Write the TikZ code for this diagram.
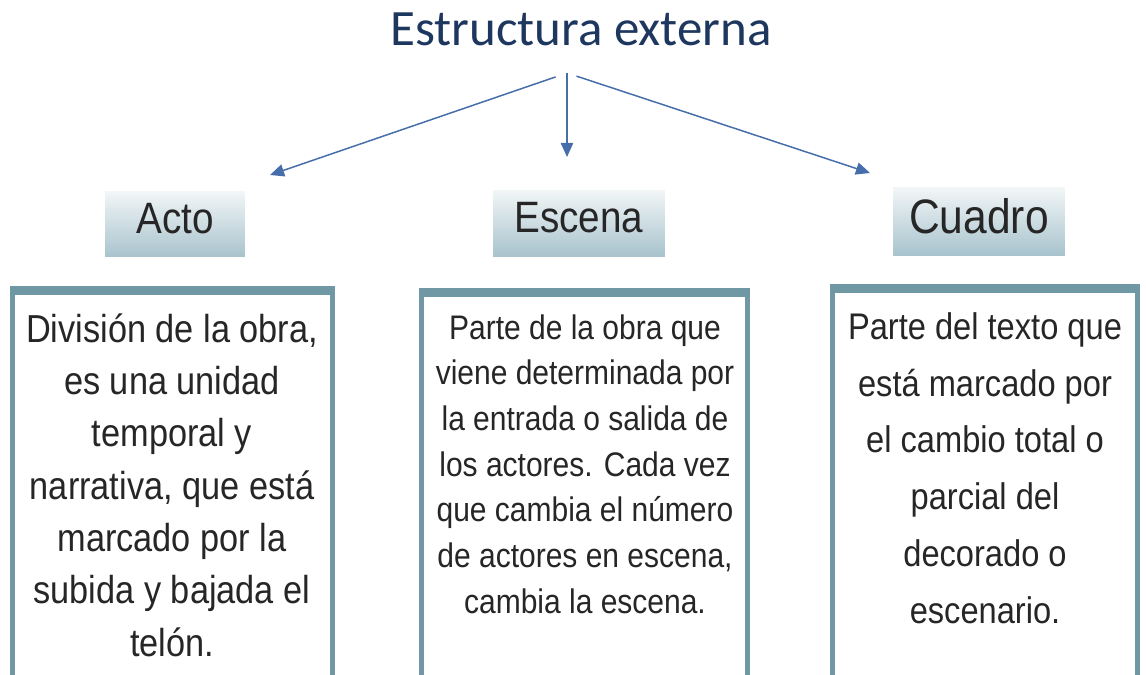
\documentclass[tikz,border=0pt]{standalone}
\usepackage{fontspec}
\usepackage{tikz}
\usetikzlibrary{positioning,arrows.meta}
\setmainfont{Liberation Sans}
\newfontfamily\arialfont[FakeStretch=0.88]{Liberation Sans}
\newfontfamily\titlefont{Carlito}
\definecolor{titleblue}{RGB}{30,55,95}
\definecolor{arrowblue}{RGB}{70,110,170}
\definecolor{boxline}{RGB}{112,152,164}
\definecolor{headtop}{RGB}{242,246,247}
\definecolor{headbottom}{RGB}{168,195,205}

\begin{document}
\begin{tikzpicture}[x=0.02cm, y=-0.02cm]
    % Define styles
    \tikzstyle{heading} = [rectangle, top color=headtop, bottom color=headbottom, minimum height=1.3cm, text centered, inner sep=0pt, text depth=6pt, text=black!85]
    \tikzstyle{descbox} = [rectangle, draw=boxline, line width=2.8pt, fill=white, anchor=north, minimum height=8.5cm]
    \tikzstyle{topbar} = [boxline, line width=5.1pt]
    \tikzstyle{desctext} = [align=center, text=black!85, inner sep=0pt]
    \tikzstyle{arrow} = [arrowblue, line width=0.85pt, -{Triangle[length=8pt,width=7pt]}]

    \useasboundingbox (0,0) rectangle (1146,674);
    \clip (0,0) rectangle (1146,674);

    % Title
    \node[font=\titlefont\fontsize{29}{34}\selectfont, text=titleblue] (title) at (581,29) {Estructura externa};

    % Headings
    \node[heading, minimum width=2.8cm, font=\arialfont\fontsize{25}{30}\selectfont] (acto) at (175,224) {Acto};
    \node[heading, minimum width=3.44cm, minimum height=1.32cm, font=\arialfont\fontsize{25}{30}\selectfont] (escena) at (579,223) {Escena};
    \node[heading, minimum width=3.44cm, minimum height=1.36cm, font=\arialfont\fontsize{27.5}{32}\selectfont] (cuadro) at (979,221) {Cuadro};

    % Description boxes
    \node[descbox, minimum width=6.4cm] (actobox) at (172.5,286) {};
    \node[descbox, minimum width=6.52cm] (escenabox) at (584.5,288) {};
    \node[descbox, minimum width=6.1cm] (cuadrobox) at (985,284) {};
    \foreach \b in {actobox, escenabox, cuadrobox}
        \draw[topbar] ([yshift=-2.55pt]\b.north west) -- ([yshift=-2.55pt]\b.north east);

    \node[desctext, font=\arialfont\fontsize{22.2}{29.8}\selectfont] (actotext) at (172,485)
        {División de la obra,\\ es una unidad\\ temporal y\\ narrativa, que está\\ marcado por la\\ subida y bajada el\\ telón.};
    \node[desctext, font=\arialfont\fontsize{19.4}{26}\selectfont] (escenatext) at (585,464)
        {Parte de la obra que\\ viene determinada por\\ la entrada o salida de\\ los actores. Cada vez\\ que cambia el número\\ de actores en escena,\\ cambia la escena.};
    \node[desctext, font=\arialfont\fontsize{21.1}{32.3}\selectfont] (cuadrotext) at (985,468)
        {Parte del texto que\\ está marcado por\\ el cambio total o\\ parcial del\\ decorado o\\ escenario.};

    % Arrows from the title
    \coordinate (fork) at (567,73);
    \coordinate (actotip) at (270,175);
    \coordinate (escenatip) at (567,157);
    \coordinate (cuadrotip) at (870,173);
    \draw[arrow, shorten <=0.24cm] (fork) -- (actotip);
    \draw[arrow] (fork) -- (escenatip);
    \draw[arrow, shorten <=0.2cm] (fork) -- (cuadrotip);

\end{tikzpicture}
\end{document}
